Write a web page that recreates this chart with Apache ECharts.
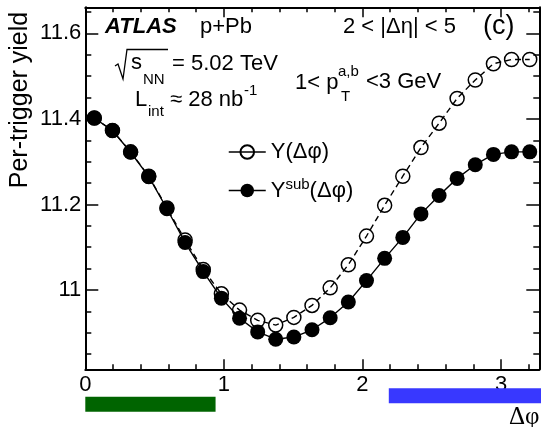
<!DOCTYPE html>
<html>
<head>
<meta charset="utf-8">
<script src="https://cdn.jsdelivr.net/npm/echarts@6/dist/echarts.min.js"></script>
<style>
  html, body { margin: 0; padding: 0; background: #fff; }
  #chart { width: 541px; height: 427px; }
</style>
</head>
<body>
<div id="chart"></div>
<script>
// Δφ bin centres (rad)
const dphi = [0.065, 0.196, 0.327, 0.458, 0.589, 0.720, 0.851, 0.982, 1.113, 1.244,
              1.374, 1.505, 1.636, 1.767, 1.898, 2.029, 2.160, 2.291, 2.422, 2.553,
              2.683, 2.814, 2.945, 3.076, 3.207];
// Y(Δφ): per-trigger yield before subtraction
const yieldAll = [11.402, 11.373, 11.323, 11.266, 11.192, 11.117, 11.048, 10.991, 10.953, 10.929,
                  10.918, 10.936, 10.964, 11.005, 11.059, 11.126, 11.198, 11.266, 11.333, 11.390,
                  11.448, 11.491, 11.529, 11.539, 11.539];
// Y^sub(Δφ): per-trigger yield after subtraction
const yieldSub = [11.402, 11.373, 11.322, 11.265, 11.190, 11.111, 11.043, 10.981, 10.934, 10.902,
                  10.885, 10.890, 10.907, 10.935, 10.972, 11.022, 11.074, 11.123, 11.178, 11.221,
                  11.261, 11.293, 11.317, 11.323, 11.323];

// axis ticks
const xMajor = [0, 1, 2, 3];
const xMinor = [0.2, 0.4, 0.6, 0.8, 1.2, 1.4, 1.6, 1.8, 2.2, 2.4, 2.6, 2.8, 3.2];
const yMajor = [11, 11.2, 11.4, 11.6];
const yMinor = [10.85, 10.9, 10.95, 11.05, 11.1, 11.15, 11.25, 11.3, 11.35, 11.45, 11.5, 11.55, 11.65];

// Δφ ranges marked under the axis (near side, away side)
const nearRange = [0, 0.94];
const awayRange = [2.19, 3.3];

const X_RANGE = [0, 3.276];
const Y_RANGE = [10.8146, 11.661];

const FONT = '"Liberation Sans", Arial, Helvetica, sans-serif';
const SERIF = '"Liberation Serif", "Times New Roman", serif';
const INK = '#000';

function xAxisDef(position, ticks, len, withLine, withLabels) {
  return {
    type: 'value', gridIndex: 0, position: position,
    min: X_RANGE[0], max: X_RANGE[1],
    splitLine: { show: false },
    axisLine: { show: withLine, onZero: false, lineStyle: { color: INK, width: 2 } },
    axisTick: { show: true, inside: true, length: len, customValues: ticks,
                lineStyle: { color: INK, width: 1.5 } },
    axisLabel: withLabels
      ? { show: true, customValues: ticks, margin: 5, color: INK, fontSize: 22, fontFamily: FONT }
      : { show: false }
  };
}

function yAxisDef(position, ticks, len, withLine, withLabels) {
  return {
    type: 'value', gridIndex: 0, position: position,
    min: Y_RANGE[0], max: Y_RANGE[1],
    splitLine: { show: false },
    axisLine: { show: withLine, onZero: false, lineStyle: { color: INK, width: 2 } },
    axisTick: { show: true, inside: true, length: len, customValues: ticks,
                lineStyle: { color: INK, width: 1.5 } },
    axisLabel: withLabels
      ? { show: true, customValues: ticks, margin: 4, color: INK, fontSize: 22, fontFamily: FONT,
          formatter: v => String(+v.toFixed(2)) }
      : { show: false }
  };
}

const chart = echarts.init(document.getElementById('chart'), null, { renderer: 'canvas' });

const txt = (x, y, text, size, extra) => ({
  type: 'text', x: x, y: y, z: 10,
  style: Object.assign({ text: text, fill: INK, font: size + 'px ' + FONT, verticalAlign: 'middle', align: 'left' }, extra || {})
});

chart.setOption({
  animation: false,
  backgroundColor: '#fff',
  grid: [
    { left: 85.3, right: 1.7, top: 7.3, bottom: 57.7 },
    { left: 85.3, right: 1.7, top: 385, height: 30 }
  ],
  xAxis: [
    xAxisDef('bottom', xMajor, 10, true, true),
    xAxisDef('bottom', xMinor, 5, false, false),
    xAxisDef('top', xMajor, 10, true, false),
    xAxisDef('top', xMinor, 5, false, false),
    { type: 'value', gridIndex: 1, min: X_RANGE[0], max: X_RANGE[1], show: false }
  ],
  yAxis: [
    yAxisDef('left', yMajor, 13, true, true),
    yAxisDef('left', yMinor, 6, false, false),
    yAxisDef('right', yMajor, 13, true, false),
    yAxisDef('right', yMinor, 6, false, false),
    { type: 'value', gridIndex: 1, min: 0, max: 1, show: false }
  ],
  legend: {
    left: 228, top: 141, orient: 'vertical', padding: 0,
    itemWidth: 37, itemHeight: 17, itemGap: 14,
    lineStyle: { type: 'solid', width: 1.5, color: INK },
    textStyle: {
      color: INK, fontSize: 22, fontFamily: FONT,
      rich: {
        n: { fontSize: 22, fontFamily: FONT, color: INK },
        s: { fontSize: 15, fontFamily: FONT, color: INK, padding: [0, 0, 12, 0] }
      }
    },
    formatter: name => name === 'Y(Δφ)' ? '{n|Y(Δφ)}' : '{n|Y}{s|sub}{n|(Δφ)}',
    data: ['Y(Δφ)', 'Ysub(Δφ)']
  },
  series: [
    {
      name: 'Y(Δφ)', type: 'line', xAxisIndex: 0, yAxisIndex: 0,
      data: dphi.map((x, i) => [x, yieldAll[i]]),
      symbol: 'circle', symbolSize: 14,
      itemStyle: { color: 'transparent', borderColor: INK, borderWidth: 1.5 },
      lineStyle: { color: INK, width: 1.4, type: [6, 4] },
      z: 3
    },
    {
      name: 'Ysub(Δφ)', type: 'line', xAxisIndex: 0, yAxisIndex: 0,
      data: dphi.map((x, i) => [x, yieldSub[i]]),
      symbol: 'circle', symbolSize: 15,
      itemStyle: { color: INK, borderColor: INK, borderWidth: 0 },
      lineStyle: { color: INK, width: 1.4 },
      z: 4
    },
    {
      type: 'custom', xAxisIndex: 4, yAxisIndex: 4, clip: false, z: 5,
      data: [
        { value: [nearRange[0], nearRange[1], 1], itemStyle: { color: '#006400' } },
        { value: [awayRange[0], awayRange[1], 0], itemStyle: { color: '#3838ff' } }
      ],
      renderItem: (params, api) => {
        const x0 = api.coord([api.value(0), 0])[0];
        const x1 = api.coord([api.value(1), 0])[0];
        const cs = params.coordSys;
        const y = cs.y + (api.value(2) ? 11.7 : 3.3);
        return { type: 'rect', shape: { x: x0, y: y, width: x1 - x0, height: 15 },
                 style: { fill: api.visual('color') } };
      }
    }
  ],
  graphic: [
    // axis titles
    { type: 'text', x: 20, y: 100, rotation: Math.PI / 2, z: 10,
      style: { text: 'Per-trigger yield', fill: INK, font: '25px ' + FONT, align: 'center', verticalAlign: 'middle' } },
    txt(509, 417, 'Δφ', 25, { font: '25px ' + SERIF }),
    // experiment and selection labels
    txt(105, 27, 'ATLAS', 22, { font: 'italic bold 22px ' + FONT }),
    txt(200, 27, 'p+Pb', 22),
    txt(343, 27, '2 < |Δη| < 5', 22),
    txt(483, 27, '(c)', 27),
    { type: 'polyline', z: 10,
      shape: { points: [[115, 66], [118, 64], [123, 79], [127, 49.5], [168, 49.5]] },
      style: { stroke: INK, lineWidth: 1.3, fill: null } },
    txt(131, 63, 's', 22),
    txt(143, 80, 'NN', 15),
    txt(172, 64, '= 5.02 TeV', 22),
    txt(135, 100, 'L', 22),
    txt(148, 112, 'int', 15),
    txt(170, 100, '≈ 28 nb', 22),
    txt(244, 91, '-1', 15),
    txt(295, 83, '1< p', 22),
    txt(338, 72, 'a,b', 15),
    txt(341, 97, 'T', 15),
    txt(366, 82, '<3 GeV', 22)
  ]
});
</script>
</body>
</html>
